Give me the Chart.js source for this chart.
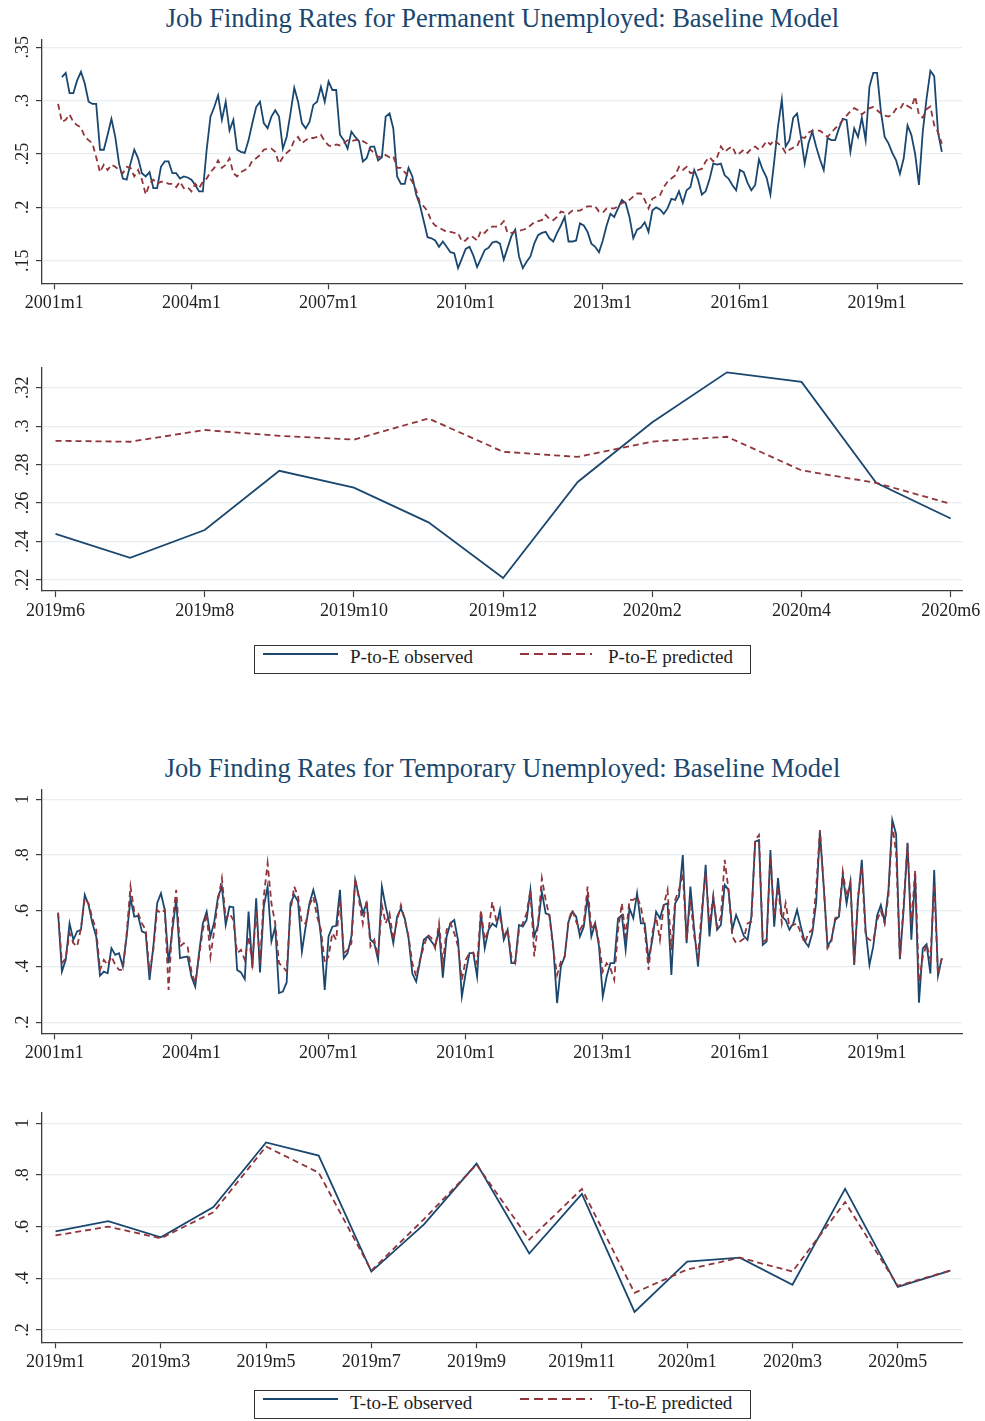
<!DOCTYPE html>
<html>
<head>
<meta charset="utf-8">
<script src="https://cdn.jsdelivr.net/npm/chart.js@4.4.1/dist/chart.umd.min.js"></script>
<style>
  html, body { margin:0; padding:0; background:#fff; }
  body { width:985px; height:1421px; position:relative; overflow:hidden; font-family:"Liberation Serif","Times New Roman",serif; }
  canvas { position:absolute; left:0; }
  .title { position:absolute; left:10px; width:985px; text-align:center; color:#1a476f; font-size:26.5px; line-height:26.5px; white-space:nowrap; }
  .lbox { position:absolute; left:254px; width:495px; height:27px; border:1px solid #333; box-sizing:content-box; }
  .ltxt { position:absolute; font-size:19px; line-height:19px; color:#222; white-space:nowrap; }
  .lsample { position:absolute; }
</style>
</head>
<body>
<div class="title" style="top:5px;">Job Finding Rates for Permanent Unemployed: Baseline Model</div>
<canvas id="c1" width="985" height="285" style="top:30px;"></canvas>
<canvas id="c2" width="985" height="260" style="top:358px;"></canvas>

<div class="lbox" style="top:645px;"></div>
<svg class="lsample" style="left:262px;top:650px;" width="78" height="8"><line x1="1" y1="4" x2="76" y2="4" stroke="#1a476f" stroke-width="1.8"/></svg>
<div class="ltxt" style="left:350px;top:647px;">P-to-E observed</div>
<svg class="lsample" style="left:518px;top:650px;" width="76" height="8"><line x1="2" y1="4" x2="74" y2="4" stroke="#90353b" stroke-width="1.8" stroke-dasharray="9,5"/></svg>
<div class="ltxt" style="left:608px;top:647px;">P-to-E predicted</div>

<div class="title" style="top:755px;">Job Finding Rates for Temporary Unemployed: Baseline Model</div>
<canvas id="c3" width="985" height="280" style="top:780px;"></canvas>
<canvas id="c4" width="985" height="265" style="top:1103px;"></canvas>

<div class="lbox" style="top:1390px;"></div>
<svg class="lsample" style="left:262px;top:1395px;" width="78" height="8"><line x1="1" y1="4" x2="76" y2="4" stroke="#1a476f" stroke-width="1.8"/></svg>
<div class="ltxt" style="left:350px;top:1393px;">T-to-E observed</div>
<svg class="lsample" style="left:518px;top:1395px;" width="76" height="8"><line x1="2" y1="4" x2="74" y2="4" stroke="#90353b" stroke-width="1.8" stroke-dasharray="9,5"/></svg>
<div class="ltxt" style="left:608px;top:1393px;">T-to-E predicted</div>

<script>
// ---------------- DATA ----------------
// Monthly series 2001m1 .. 2020m6 (234 months), index 0 = 2001m1
const permObserved = [
  null, null, .322, .326, .307, .307, .319, .327, .316, .299, .297, .297,   // 2001
  .254, .254, .268, .283, .266, .241, .227, .226, .241, .254, .246, .232,   // 2002
  .229, .233, .218, .218, .238, .243, .243, .232, .232, .227, .229, .228,   // 2003
  .226, .221, .215, .215, .254, .285, .294, .305, .282, .299, .272, .282,   // 2004
  .254, .252, .251, .263, .279, .294, .299, .279, .274, .285, .291, .285,   // 2005
  .255, .266, .288, .312, .299, .279, .274, .280, .296, .299, .313, .299,   // 2006
  .318, .310, .310, .268, .263, .255, .271, .266, .262, .243, .246, .257,   // 2007
  .257, .244, .247, .285, .288, .274, .229, .222, .222, .237, .229, .212,   // 2008
  .202, .187, .172, .171, .169, .163, .168, .163, .158, .157, .143, .152,   // 2009
  .161, .163, .155, .144, .152, .160, .162, .167, .168, .166, .151, .162,   // 2010
  .173, .179, .154, .143, .149, .154, .166, .174, .176, .177, .171, .168,   // 2011
  .176, .183, .191, .168, .168, .169, .185, .183, .177, .166, .163, .158,   // 2012
  .169, .183, .194, .191, .199, .207, .204, .191, .171, .179, .181, .186,   // 2013
  .177, .197, .200, .198, .194, .199, .208, .207, .215, .204, .216, .219,   // 2014
  .235, .226, .212, .215, .226, .241, .240, .241, .230, .227, .221, .216,   // 2015
  .235, .233, .223, .216, .221, .245, .235, .228, .212, .243, .276, .301,   // 2016
  .257, .263, .284, .288, .266, .241, .260, .271, .257, .245, .235, .265,   // 2017
  .263, .263, .274, .283, .282, .252, .274, .266, .284, .263, .313, .326,   // 2018
  .326, .290, .266, .260, .251, .244, .2315, .246, .2768, .268, .250, .221, // 2019
  .271, .302, .328, .323, .2705, .252                                       // 2020
];
const permPredicted = [
  null, .297, .280, .282, .287, .280, .277, .275, .266, .263, .260, .247,   // 2001
  .233, .240, .235, .240, .238, .235, .232, .238, .237, .229, .235, .226,   // 2002
  .212, .222, .226, .222, .224, .224, .222, .222, .219, .224, .218, .219,   // 2003
  .215, .222, .218, .224, .227, .233, .237, .244, .237, .240, .246, .232,   // 2004
  .229, .233, .235, .237, .244, .246, .249, .254, .255, .255, .252, .241,   // 2005
  .247, .251, .254, .263, .266, .260, .263, .265, .265, .266, .268, .262,   // 2006
  .258, .257, .259, .258, .260, .263, .262, .263, .263, .262, .260, .254,   // 2007
  .251, .247, .248, .249, .247, .248, .237, .237, .233, .229, .224, .216,   // 2008
  .204, .201, .196, .187, .183, .181, .179, .177, .177, .176, .176, .168,   // 2009
  .169, .173, .172, .169, .178, .176, .180, .182, .182, .183, .187, .176,   // 2010
  .176, .177, .178, .179, .180, .183, .186, .187, .188, .193, .189, .188,   // 2011
  .191, .196, .195, .194, .197, .197, .197, .199, .201, .201, .201, .196,   // 2012
  .195, .199, .199, .199, .201, .204, .205, .207, .210, .213, .213, .207,   // 2013
  .199, .208, .210, .211, .219, .224, .227, .230, .238, .235, .238, .232,   // 2014
  .233, .235, .236, .243, .247, .243, .247, .257, .252, .255, .257, .249,   // 2015
  .251, .254, .251, .255, .257, .254, .257, .262, .259, .263, .260, .257,   // 2016
  .251, .254, .256, .257, .266, .265, .270, .272, .272, .272, .269, .266,   // 2017
  .270, .274, .277, .282, .286, .290, .293, .291, .287, .290, .293, .294,   // 2018
  .291, .288, .286, .285, .287, .2924, .2919, .298, .295, .293, .304, .2867,// 2019
  .284, .292, .2945, .277, .2705, .2596                                     // 2020
];
const tempObserved = [
  null, .591, .382, .424, .555, .496, .526, .532, .657, .621, .555, .508,   // 2001
  .367, .382, .376, .466, .442, .448, .400, .508, .645, .579, .582, .526,   // 2002
  .520, .352, .472, .627, .663, .603, .412, .532, .639, .430, .434, .436,   // 2003
  .364, .328, .448, .555, .597, .508, .561, .651, .687, .549, .615, .613,   // 2004
  .388, .379, .355, .597, .394, .645, .379, .615, .687, .490, .543, .305,   // 2005
  .310, .343, .626, .657, .633, .454, .543, .627, .675, .621, .508, .316,   // 2006
  .508, .543, .546, .675, .430, .448, .508, .711, .651, .591, .627, .496,   // 2007
  .484, .424, .687, .615, .555, .484, .579, .609, .573, .502, .375, .346,   // 2008
  .418, .496, .508, .490, .472, .532, .360, .508, .555, .567, .493, .293,   // 2009
  .376, .448, .448, .364, .591, .466, .532, .554, .543, .603, .496, .532,   // 2010
  .412, .412, .549, .543, .567, .675, .508, .548, .668, .591, .585, .472,   // 2011
  .269, .400, .436, .561, .597, .579, .508, .543, .651, .508, .555, .472,   // 2012
  .293, .364, .412, .412, .573, .585, .460, .609, .573, .663, .555, .555,   // 2013
  .424, .496, .597, .573, .621, .627, .370, .627, .651, .800, .484, .687,   // 2014
  .532, .400, .579, .765, .508, .651, .532, .549, .693, .675, .532, .585,   // 2015
  .550, .510, .496, .579, .848, .854, .478, .490, .818, .543, .717, .579,   // 2016
  .567, .532, .555, .603, .543, .490, .472, .520, .627, .884, .687, .472,   // 2017
  .496, .567, .579, .729, .627, .705, .406, .639, .783, .532, .406, .472,   // 2018
  .582, .621, .559, .676, .926, .875, .426, .609, .844, .496, .727, .270,   // 2019
  .465, .480, .375, .746, .367, .430                                        // 2020
];
const tempPredicted = [
  null, .594, .412, .430, .520, .484, .472, .538, .645, .627, .573, .532,   // 2001
  .388, .424, .406, .436, .406, .388, .388, .520, .687, .597, .591, .555,   // 2002
  .532, .382, .460, .603, .591, .603, .316, .555, .675, .472, .484, .472,   // 2003
  .382, .340, .436, .532, .591, .436, .532, .639, .717, .573, .591, .567,   // 2004
  .448, .460, .424, .508, .412, .603, .412, .651, .771, .627, .555, .412,   // 2005
  .400, .382, .600, .687, .651, .555, .555, .621, .651, .579, .532, .412,   // 2006
  .436, .520, .496, .639, .448, .460, .484, .717, .639, .554, .639, .472,   // 2007
  .496, .436, .621, .555, .591, .496, .567, .621, .567, .508, .412, .364,   // 2008
  .424, .472, .514, .502, .466, .555, .412, .532, .555, .520, .472, .352,   // 2009
  .424, .448, .450, .410, .603, .496, .532, .632, .567, .579, .508, .532,   // 2010
  .436, .412, .532, .555, .591, .675, .436, .555, .717, .639, .579, .460,   // 2011
  .370, .418, .436, .567, .603, .561, .532, .555, .687, .532, .555, .484,   // 2012
  .382, .412, .394, .352, .532, .627, .508, .639, .639, .651, .615, .532,   // 2013
  .388, .520, .579, .496, .621, .675, .460, .639, .675, .735, .496, .639,   // 2014
  .508, .436, .603, .735, .555, .651, .543, .579, .783, .675, .508, .484,   // 2015
  .490, .500, .555, .560, .854, .872, .490, .496, .794, .579, .687, .555,   // 2016
  .627, .543, .549, .555, .520, .484, .520, .532, .675, .890, .687, .466,   // 2017
  .490, .573, .585, .741, .651, .699, .412, .651, .759, .508, .496, .490,   // 2018
  .566, .600, .555, .656, .910, .809, .430, .629, .840, .550, .746, .344,   // 2019
  .434, .480, .426, .695, .371, .430                                        // 2020
];

// Zoomed panels: the last months of the same series
const permObservedRecent  = permObserved.slice(221);   // 2019m6 .. 2020m6
const permPredictedRecent = permPredicted.slice(221);
const tempObservedRecent  = tempObserved.slice(216);   // 2019m1 .. 2020m6
const tempPredictedRecent = tempPredicted.slice(216);

// Tick labels
const longTickMonths = [0, 36, 72, 108, 144, 180, 216];
const longTickLabels = ["2001m1", "2004m1", "2007m1", "2010m1", "2013m1", "2016m1", "2019m1"];
const permRecentTickMonths = [0, 2, 4, 6, 8, 10, 12];
const permRecentTickLabels = ["2019m6", "2019m8", "2019m10", "2019m12", "2020m2", "2020m4", "2020m6"];
const tempRecentTickMonths = [0, 2, 4, 6, 8, 10, 12, 14, 16];
const tempRecentTickLabels = ["2019m1", "2019m3", "2019m5", "2019m7", "2019m9", "2019m11", "2020m1", "2020m3", "2020m5"];
const permYTicks = [.15, .2, .25, .3, .35];
const permYLabels = [".15", ".2", ".25", ".3", ".35"];
const permRecentYTicks = [.22, .24, .26, .28, .3, .32];
const permRecentYLabels = [".22", ".24", ".26", ".28", ".3", ".32"];
const tempYTicks = [.2, .4, .6, .8, 1];
const tempYLabels = [".2", ".4", ".6", ".8", "1"];

// ---------------- RENDER ----------------
const NAVY = '#1a476f', MAROON = '#90353b', AXIS = '#3c3c3c', GRID = '#e7edf0', TXT = '#222';
const FONT = '"Liberation Serif", "Times New Roman", serif';

const rotYLabels = {
  id: 'rotYLabels',
  afterDraw(chart, args, opts) {
    const s = chart.scales.y, ctx = chart.ctx;
    ctx.save();
    ctx.font = '18px ' + FONT;
    ctx.fillStyle = TXT;
    ctx.textAlign = 'center';
    ctx.textBaseline = 'alphabetic';
    s.ticks.forEach((t, k) => {
      const y = s.getPixelForValue(t.value);
      ctx.save();
      ctx.translate(opts.x, y);
      ctx.rotate(-Math.PI / 2);
      ctx.fillText(opts.labels[k], 0, 0);
      ctx.restore();
    });
    ctx.restore();
  }
};

function toXY(arr) { return arr.map((v, i) => ({ x: i, y: v })); }

function makeChart(id, obs, pred, cfg) {
  const ctx = document.getElementById(id);
  return new Chart(ctx, {
    type: 'line',
    data: {
      datasets: [
        { label: 'predicted', data: toXY(pred), borderColor: MAROON, borderWidth: 1.8, borderDash: [6, 4],
          pointRadius: 0, tension: 0, fill: false, spanGaps: false, order: 0 },
        { label: 'observed', data: toXY(obs), borderColor: NAVY, borderWidth: 1.8,
          pointRadius: 0, tension: 0, fill: false, spanGaps: false, order: 1 }
      ]
    },
    options: {
      responsive: false, animation: false, devicePixelRatio: 1,
      layout: { padding: { top: cfg.padTop, right: 23, left: 0, bottom: 0 } },
      plugins: { legend: { display: false }, tooltip: { enabled: false }, title: { display: false },
                 rotYLabels: { x: 28, labels: cfg.yLabels } },
      scales: {
        x: {
          type: 'linear', min: cfg.xMin, max: cfg.xMax,
          afterBuildTicks: s => { s.ticks = cfg.xTicks.map(v => ({ value: v })); },
          afterFit: s => { s.height = cfg.xHeight; s.paddingLeft = 0; s.paddingRight = 0; },
          ticks: { autoSkip: false, maxRotation: 0, minRotation: 0, padding: 3,
                   callback: (v, i) => cfg.xLabels[i], font: { family: FONT, size: 18 }, color: TXT },
          grid: { drawOnChartArea: false, drawTicks: true, tickLength: 6, tickColor: AXIS, tickWidth: 1.2, color: AXIS },
          border: { display: true, color: AXIS, width: 1.3 }
        },
        y: {
          type: 'linear', min: cfg.yMin, max: cfg.yMax,
          afterBuildTicks: s => { s.ticks = cfg.yTicks.map(v => ({ value: v })); },
          afterFit: s => { s.width = 42; s.paddingTop = 0; s.paddingBottom = 0; },
          ticks: { display: false },
          grid: { color: GRID, lineWidth: 1.2, drawTicks: true, tickLength: 6, tickColor: AXIS, tickWidth: 1.2 },
          border: { display: true, color: AXIS, width: 1.3 }
        }
      }
    },
    plugins: [rotYLabels]
  });
}

makeChart('c1', permObserved, permPredicted, {
  padTop: 10, xHeight: 31.7, xMin: -3.229, xMax: 238.3,
  xTicks: longTickMonths, xLabels: longTickLabels,
  yMin: 0.12882, yMax: 0.35684, yTicks: permYTicks, yLabels: permYLabels
});
makeChart('c2', permObservedRecent, permPredictedRecent, {
  padTop: 10, xHeight: 27, xMin: -0.181, xMax: 12.151,
  xTicks: permRecentTickMonths, xLabels: permRecentTickLabels,
  yMin: 0.21428, yMax: 0.33025, yTicks: permRecentYTicks, yLabels: permRecentYLabels
});
makeChart('c3', tempObserved, tempPredicted, {
  padTop: 10, xHeight: 26.7, xMin: -3.229, xMax: 238.3,
  xTicks: longTickMonths, xLabels: longTickLabels,
  yMin: 0.1605, yMax: 1.0334, yTicks: tempYTicks, yLabels: tempYLabels
});
makeChart('c4', tempObservedRecent, tempPredictedRecent, {
  padTop: 10, xHeight: 25.7, xMin: -0.2565, xMax: 17.221,
  xTicks: tempRecentTickMonths, xLabels: tempRecentTickLabels,
  yMin: 0.1524, yMax: 1.0399, yTicks: tempYTicks, yLabels: tempYLabels
});
</script>
</body>
</html>
